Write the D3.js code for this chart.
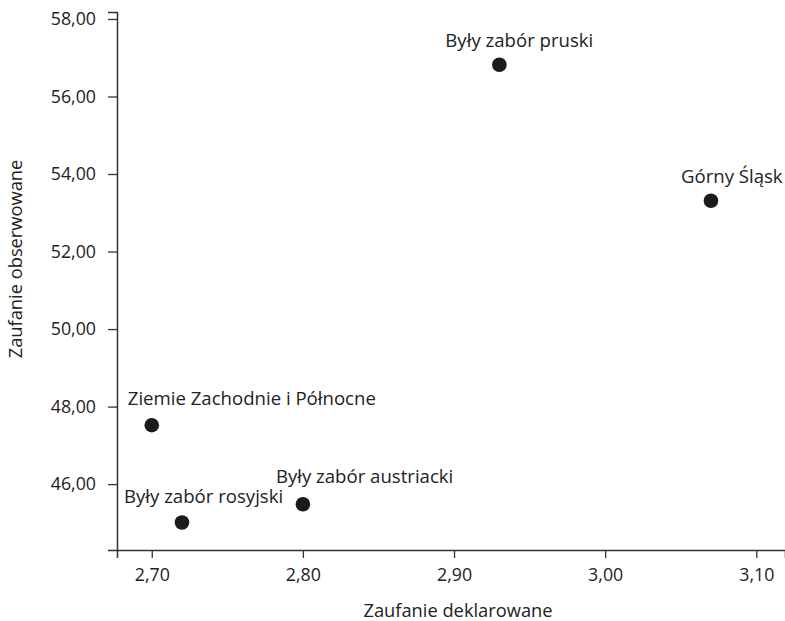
<!DOCTYPE html>
<html>
<head>
<meta charset="utf-8">
<script src="https://cdn.jsdelivr.net/npm/d3@7"></script>
<style>
  html, body { margin: 0; padding: 0; background: #fff; }
  svg { display: block; }
  text { font-family: "Open Sans", sans-serif; fill: #222; }
</style>
</head>
<body>
<svg id="chart" width="785" height="621"></svg>
<script>
// ---- data ----
const regions = ["Ziemie Zachodnie i Północne", "Były zabór rosyjski", "Były zabór austriacki", "Były zabór pruski", "Górny Śląsk"];
const declared = [2.70, 2.72, 2.80, 2.93, 3.07];
const observed = [47.52, 45.01, 45.48, 56.82, 53.31];
const xTicks = [2.70, 2.80, 2.90, 3.00, 3.10];
const yTicks = [46, 48, 50, 52, 54, 56, 58];
const xTitle = "Zaufanie deklarowane";
const yTitle = "Zaufanie obserwowane";
// label placement (pixel offsets of text start / baseline from the dot)
const labelDx = [-24, -58, -27, -54, -30];
const labelDy = [-20, -19, -21, -18, -18];

const pl = d3.formatLocale({decimal: ",", thousands: " ", grouping: [3], currency: ["", " zł"]});
const fmt = pl.format(".2f");

const svg = d3.select("#chart");
const x = d3.scaleLinear().domain([2.677, 3.119]).range([117, 785]);
const y = d3.scaleLinear().domain([44.3, 58.18]).range([550, 12]);

const axisColor = "#333";
const fs = 17.8;
const labelFs = 18.6;
const titleFs = 18.3;

// x axis
const gx = svg.append("g").attr("transform", "translate(0,550)")
  .call(d3.axisBottom(x).tickValues(xTicks).tickFormat(fmt).tickSizeOuter(0).tickSize(8).tickPadding(10));
gx.select(".domain").attr("stroke", axisColor).attr("stroke-width", 1.5);
gx.selectAll(".tick line").attr("stroke", axisColor).attr("stroke-width", 1.3);
gx.selectAll(".tick text").attr("font-size", fs).attr("font-family", "Open Sans").attr("fill", "#222");

// y axis
const gy = svg.append("g").attr("transform", "translate(117,0)")
  .call(d3.axisLeft(y).tickValues(yTicks).tickFormat(fmt).tickSizeOuter(0).tickSize(9).tickPadding(12));
gy.select(".domain").attr("stroke", axisColor).attr("stroke-width", 1.5);
gy.selectAll(".tick line").attr("stroke", axisColor).attr("stroke-width", 1.3);
gy.selectAll(".tick text").attr("font-size", fs).attr("font-family", "Open Sans").attr("fill", "#222");

// titles
svg.append("text").attr("x", 458).attr("y", 617).attr("text-anchor", "middle")
  .attr("font-size", titleFs).text(xTitle);
svg.append("text").attr("transform", "translate(22,259) rotate(-90)").attr("text-anchor", "middle")
  .attr("font-size", titleFs).text(yTitle);

// points
const data = regions.map((r, i) => ({name: r, x: declared[i], y: observed[i], dx: labelDx[i], dy: labelDy[i]}));
svg.append("g").selectAll("circle").data(data).join("circle")
  .attr("cx", d => x(d.x)).attr("cy", d => y(d.y)).attr("r", 7.3).attr("fill", "#1c1a1b");
svg.append("g").selectAll("text").data(data).join("text")
  .attr("x", d => x(d.x) + d.dx).attr("y", d => y(d.y) + d.dy)
  .attr("font-size", labelFs).text(d => d.name);
</script>
</body>
</html>
